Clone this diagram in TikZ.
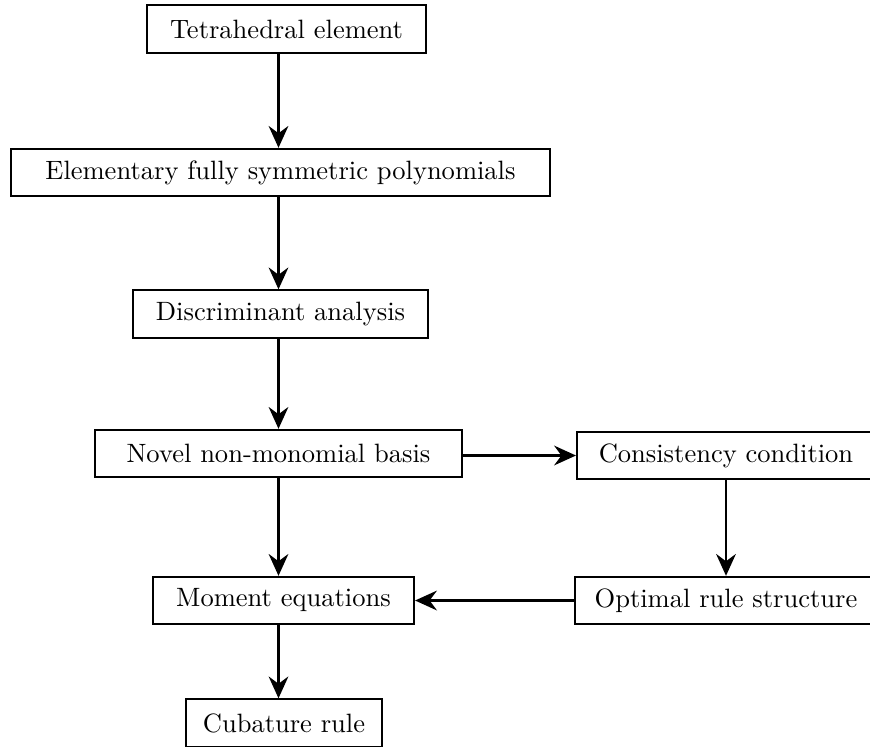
\documentclass[tikz,border=0pt]{standalone}
\usetikzlibrary{arrows.meta}
\begin{document}
\begin{tikzpicture}[x=0.3846pt,y=-0.3846pt,
  stepbox/.style={draw,line width=0.8pt,rectangle,minimum height=18.2pt,inner sep=0pt,align=center,
    font=\fontsize{10.2}{12}\selectfont},
  flow/.style={line width=0.8pt,-{Stealth[length=8.4pt,width=7.6pt,inset=2.8pt]}}]
\useasboundingbox (0,0) rectangle (870,746);
\clip (0,0) rectangle (870,746);
% main column
\node[stepbox,minimum width=107.3pt] (tet)  at (286.5,29)   {Tetrahedral element};
\node[stepbox,minimum width=207.3pt] (elem) at (280.5,172.5) {Elementary fully symmetric polynomials};
\node[stepbox,minimum width=113.5pt] (disc) at (280.5,314)  {Discriminant analysis};
\node[stepbox,minimum width=141.2pt] (nov)  at (278.5,453.5) {Novel non-monomial basis};
\node[stepbox,minimum width=100.4pt] (mom)  at (283.5,600.5) {Moment equations};
\node[stepbox,minimum width=75.4pt]  (cub)  at (284,723)    {Cubature rule};
% side branch
\node[stepbox,minimum width=114.6pt] (cons) at (726,455.5)  {Consistency condition};
\node[stepbox,minimum width=116.2pt] (opt)  at (726,600.5)  {Optimal rule structure};
% connectors
\draw[flow] (tet.south -| nov.south) -- (elem.north -| nov.north);
\draw[flow] (elem.south -| nov.south) -- (disc.north -| nov.north);
\draw[flow] (disc.south -| nov.south) -- (nov.north);
\draw[flow] (nov.south) -- (mom.north -| nov.north);
\draw[flow] (mom.south -| nov.south) -- (cub.north -| nov.north);
\draw[flow] (nov.east |- cons.west) -- (cons.west);
\draw[flow] (cons.south) -- (opt.north);
\draw[flow] (opt.west) -- (mom.east);
\end{tikzpicture}
\end{document}
